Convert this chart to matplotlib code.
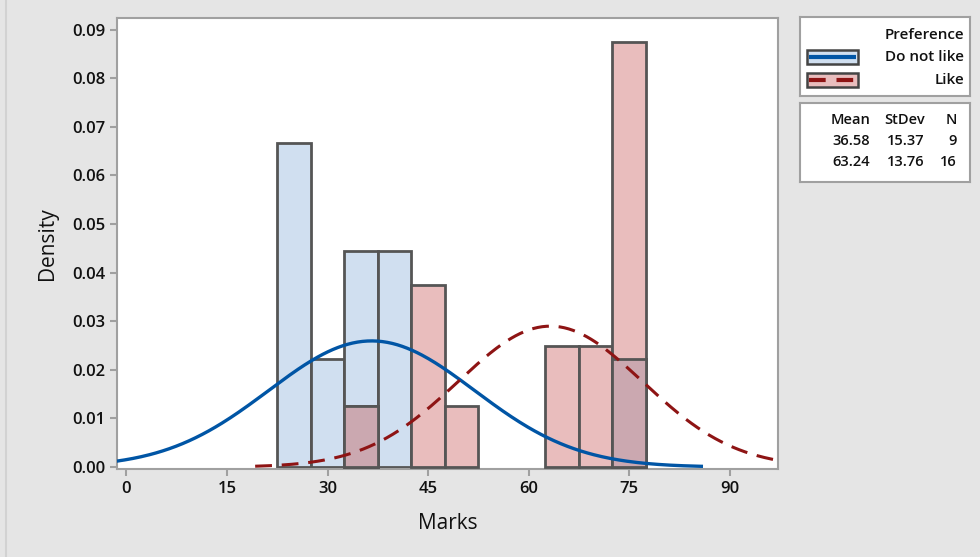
import numpy as np
import matplotlib
matplotlib.use("Agg")
import matplotlib.pyplot as plt
from matplotlib.patches import Rectangle
from matplotlib.lines import Line2D

plt.rcParams['font.family'] = ['Open Sans', 'DejaVu Sans']
plt.rcParams['font.weight'] = 'semibold'

# histogram data (bin width 5)
bin_centers = [25, 30, 35, 40, 45, 50, 55, 60, 65, 70, 75]
dislike_counts = [3, 1, 2, 2, 0, 0, 0, 0, 0, 0, 1]
like_counts = [0, 0, 1, 0, 3, 1, 0, 0, 2, 2, 7]
bin_width = 5

groups = ["Do not like", "Like"]
means = [36.58, 63.24]
stdevs = [15.37, 13.76]
ns = [9, 16]

x_ticks = [0, 15, 30, 45, 60, 75, 90]
y_ticks = [0.00, 0.01, 0.02, 0.03, 0.04, 0.05, 0.06, 0.07, 0.08, 0.09]

blue_fill = "#d0dff0"
red_fill = "#e9bdbd"
mix_fill = "#cba8b0"
edge = "#555555"
blue_line = "#0055a5"
red_line = "#8e1414"
bg = "#e5e5e5"
txt = "#111111"

fig = plt.figure(figsize=(9.8, 5.57), dpi=100, facecolor=bg)
fig.add_artist(Line2D([6 / 980, 6 / 980], [0, 1], color="#d2d2d2", lw=1.5))

ax = fig.add_axes([117 / 980, 1 - 469 / 557, (778 - 117) / 980, (469 - 18) / 557])
ax.set_facecolor("white")

centers = np.array(bin_centers, dtype=float)
d_blue = np.array(dislike_counts) / (ns[0] * bin_width)
d_red = np.array(like_counts) / (ns[1] * bin_width)
d_mix = np.where((d_blue > 0) & (d_red > 0), np.minimum(d_blue, d_red), 0)

m = d_blue > 0
ax.bar(centers[m], d_blue[m], width=bin_width, color=blue_fill, edgecolor=edge, linewidth=2, zorder=2)
m = d_red > 0
ax.bar(centers[m], d_red[m], width=bin_width, color=red_fill, edgecolor=edge, linewidth=2, zorder=3)
m = d_mix > 0
ax.bar(centers[m], d_mix[m], width=bin_width, color=mix_fill, edgecolor=edge, linewidth=2, zorder=4)

def npdf(x, mu, sd):
    return np.exp(-0.5 * ((x - mu) / sd) ** 2) / (sd * np.sqrt(2 * np.pi))

xs = np.linspace(means[0] - 3.2 * stdevs[0], means[0] + 3.2 * stdevs[0], 400)
ax.plot(xs, npdf(xs, means[0], stdevs[0]), color=blue_line, lw=2.4, zorder=5)
xs = np.linspace(means[1] - 3.2 * stdevs[1], means[1] + 3.2 * stdevs[1], 400)
ax.plot(xs, npdf(xs, means[1], stdevs[1]), color=red_line, lw=2.2, dashes=(5.5, 3.2), zorder=5)

ax.set_xlim(-1.4, 97.2)
ax.set_ylim(-0.0004, 0.0924)
ax.set_xticks(x_ticks)
ax.set_yticks(y_ticks)
ax.set_yticklabels(["%.2f" % v for v in y_ticks])
for s in ax.spines.values():
    s.set_color("#a0a0a0")
    s.set_linewidth(1.5)
ax.tick_params(axis="both", colors="#a0a0a0", width=1.5, length=5, labelcolor=txt, labelsize=12)
ax.set_xlabel("Marks", fontsize=15, color=txt, labelpad=12)
ax.set_ylabel("Density", fontsize=15, color=txt, labelpad=10)

# legend box
lg = fig.add_axes([800 / 980, 1 - 96 / 557, 170 / 980, 79 / 557])
lg.set_xlim(0, 170)
lg.set_ylim(79, 0)
lg.set_xticks([])
lg.set_yticks([])
for s in lg.spines.values():
    s.set_color("#a0a0a0")
    s.set_linewidth(1.5)
lg.text(164, 18, "Preference", ha="right", va="center", fontsize=11, color=txt)
labels_y = [40, 63]
fills = [blue_fill, red_fill]
lines = [(blue_line, "-"), (red_line, (0, (4, 2.6)))]
for g, yy, f, (lc, ls) in zip(groups, labels_y, fills, lines):
    lg.add_patch(Rectangle((7, yy - 7), 51, 14, facecolor=f, edgecolor="#444444", lw=1.8))
    lg.plot([9, 56], [yy, yy], color=lc, lw=3, linestyle=ls, solid_capstyle="butt", dash_capstyle="butt")
    lg.text(164, yy, g, ha="right", va="center", fontsize=11, color=txt)

# stats box
st = fig.add_axes([800 / 980, 1 - 182 / 557, 170 / 980, 79 / 557])
st.set_xlim(0, 170)
st.set_ylim(79, 0)
st.set_xticks([])
st.set_yticks([])
for s in st.spines.values():
    s.set_color("#a0a0a0")
    s.set_linewidth(1.5)
cols_x = [70, 125, 157]
for cx, h in zip(cols_x, ["Mean", "StDev", "N"]):
    st.text(cx, 17, h, ha="right", va="center", fontsize=10.5, color=txt)
for i, yy in enumerate([38, 59]):
    st.text(cols_x[0], yy, "%.2f" % means[i], ha="right", va="center", fontsize=10.5, color=txt)
    st.text(cols_x[1], yy, "%.2f" % stdevs[i], ha="right", va="center", fontsize=10.5, color=txt)
    st.text(cols_x[2], yy, "%d" % ns[i], ha="right", va="center", fontsize=10.5, color=txt)

fig.savefig("out.png", dpi=100, facecolor=bg)
